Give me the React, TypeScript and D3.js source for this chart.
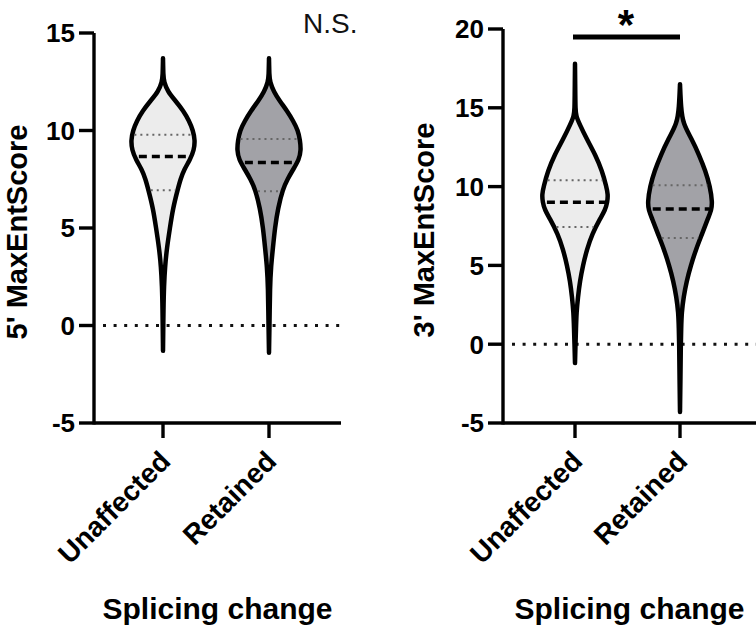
import React from "react";
import * as d3 from "d3";

const categories = ["Unaffected", "Retained"];

// [value, relative density]
const fiveUnaffected: [number, number][] = [
  [13.7, 0], [12.8, 0.01], [12.5, 0.03], [12, 0.14], [11.5, 0.39], [11, 0.62], [10.5, 0.79],
  [10, 0.91], [9.5, 0.97], [9, 0.94], [8.5, 0.82], [8, 0.64], [7.5, 0.53], [7, 0.45],
  [6, 0.3], [5, 0.21], [4, 0.12], [3, 0.06], [2, 0.03], [1, 0.015], [-1.3, 0],
];
const fiveRetained: [number, number][] = [
  [13.7, 0], [12.8, 0.01], [12.5, 0.03], [12, 0.14], [11.5, 0.33], [11, 0.55], [10.5, 0.73],
  [10, 0.88], [9.5, 0.94], [9, 0.97], [8.5, 0.91], [8, 0.73], [7.5, 0.56], [7, 0.42],
  [6, 0.27], [5, 0.18], [4, 0.12], [3, 0.06], [2, 0.03], [0, 0.015], [-1.4, 0],
];
const threeUnaffected: [number, number][] = [
  [17.8, 0], [15.5, 0.01], [15, 0.015], [14.5, 0.03], [14, 0.13], [13, 0.36], [12, 0.62],
  [11, 0.82], [10, 0.95], [9.5, 1.0], [9, 0.98], [8.5, 0.91], [8, 0.77], [7, 0.52],
  [6, 0.36], [5, 0.24], [4, 0.15], [3, 0.09], [2, 0.045], [1, 0.03], [0, 0.015], [-1.2, 0],
];
const threeRetained: [number, number][] = [
  [16.5, 0], [15, 0.03], [14, 0.09], [13, 0.36], [12, 0.58], [11, 0.77], [10, 0.91],
  [9, 0.98], [8.5, 0.95], [8, 0.85], [7, 0.67], [6, 0.48], [5, 0.33], [4, 0.2], [3, 0.11],
  [2, 0.05], [1, 0.036], [0, 0.024], [-2, 0.015], [-4.3, 0],
];

const fiveMedians = [8.67, 8.36];
const fiveQ1 = [6.93, 6.88];
const fiveQ3 = [9.78, 9.56];
const threeMedians = [9.0, 8.58];
const threeQ1 = [7.44, 6.74];
const threeQ3 = [10.4, 10.08];

const leftTicks = [-5, 0, 5, 10, 15];
const rightTicks = [-5, 0, 5, 10, 15, 20];

const fills = ["#ececec", "#a2a2a7"];
const FONT = "'Liberation Sans', Arial, Helvetica, sans-serif";
const STROKE = 4.5;

function densityAt(profile: [number, number][], v: number) {
  const sorted = [...profile].sort((a, b) => a[0] - b[0]);
  for (let i = 0; i < sorted.length - 1; i++) {
    const [v0, d0] = sorted[i];
    const [v1, d1] = sorted[i + 1];
    if (v >= v0 && v <= v1) return d0 + ((v - v0) / (v1 - v0)) * (d1 - d0);
  }
  return 0;
}

type PanelProps = {
  x0: number;
  x1: number;
  top: number;
  bottom: number;
  domain: [number, number];
  ticks: number[];
  profiles: [number, number][][];
  medians: number[];
  q1: number[];
  q3: number[];
  catX: number[];
  yTitle: string;
  yTitleX: number;
};

function Panel(p: PanelProps) {
  const y = d3.scaleLinear().domain(p.domain).range([p.bottom, p.top]);
  const w = d3.scaleLinear().domain([0, 1]).range([0, 33]);
  const x = d3.scaleOrdinal<string, number>().domain(categories).range(p.catX);
  const axisY = p.bottom;
  return (
    <g>
      {/* zero line */}
      <line x1={p.x0 + 9} x2={p.x1} y1={y(0)} y2={y(0)} stroke="#111" strokeWidth={3}
        strokeDasharray="3 7.6" />
      {/* violins */}
      {categories.map((c, i) => {
        const cx = x(c);
        const area = d3.area<[number, number]>()
          .y((d) => y(d[0]))
          .x0((d) => cx - w(d[1]))
          .x1((d) => cx + w(d[1]))
          .curve(d3.curveBasis);
        const line = (v: number) => {
          const hw = Math.max(0, w(densityAt(p.profiles[i], v)) - STROKE / 2);
          return { x1: cx - hw, x2: cx + hw, y: y(v) };
        };
        const m = line(p.medians[i]);
        const a = line(p.q1[i]);
        const b = line(p.q3[i]);
        return (
          <g key={c}>
            <path d={area(p.profiles[i]) || ""} fill={fills[i]} stroke="#000" strokeWidth={STROKE}
              strokeLinejoin="round" />
            <line x1={a.x1} x2={a.x2} y1={a.y} y2={a.y} stroke="#666" strokeWidth={2} strokeDasharray="2 4" />
            <line x1={b.x1} x2={b.x2} y1={b.y} y2={b.y} stroke="#666" strokeWidth={2} strokeDasharray="2 4" />
            <line x1={m.x1 + 2} x2={m.x2} y1={m.y} y2={m.y} stroke="#000" strokeWidth={3.5} strokeDasharray="8 5" />
          </g>
        );
      })}
      {/* y axis */}
      <line x1={p.x0} x2={p.x0} y1={y(p.domain[1])} y2={axisY + 1.5} stroke="#000" strokeWidth={3.4} />
      {p.ticks.map((t) => (
        <g key={t}>
          <line x1={p.x0 - 15} x2={p.x0} y1={y(t)} y2={y(t)} stroke="#000" strokeWidth={3.4} />
          <text x={p.x0 - 19} y={y(t)} dy="0.36em" textAnchor="end" fontFamily={FONT}
            fontWeight="bold" fontSize={26} fill="#000">{t}</text>
        </g>
      ))}
      {/* x axis */}
      <line x1={p.x0} x2={p.x1} y1={axisY} y2={axisY} stroke="#000" strokeWidth={3.4} />
      {categories.map((c) => (
        <g key={c}>
          <line x1={x(c)} x2={x(c)} y1={axisY} y2={axisY + 15} stroke="#000" strokeWidth={3.4} />
          <text transform={`translate(${x(c) + 9},${axisY + 40}) rotate(-45)`} textAnchor="end"
            fontFamily={FONT} fontWeight="bold" fontSize={28} fill="#000">{c}</text>
        </g>
      ))}
      <text x={(p.x0 + p.x1) / 2} y={619} textAnchor="middle" fontFamily={FONT} fontWeight="bold"
        fontSize={30} fill="#000">Splicing change</text>
      <text transform={`translate(${p.yTitleX},${(p.top + p.bottom) / 2 + 4}) rotate(-90)`}
        textAnchor="middle" fontFamily={FONT} fontWeight="bold" fontSize={29} fill="#000">{p.yTitle}</text>
    </g>
  );
}

export default function App() {
  return (
    <div style={{ position: "fixed", left: 0, top: 0 }}>
      <svg width={756} height={630} style={{ display: "block", background: "#fff" }}>
        <Panel x0={94} x1={341} top={33} bottom={423} domain={[-5, 15]} ticks={leftTicks}
          profiles={[fiveUnaffected, fiveRetained]} medians={fiveMedians} q1={fiveQ1} q3={fiveQ3}
          catX={[163, 269]} yTitle="5' MaxEntScore" yTitleX={27} />
        <Panel x0={503} x1={756} top={29} bottom={423} domain={[-5, 20]} ticks={rightTicks}
          profiles={[threeUnaffected, threeRetained]} medians={threeMedians} q1={threeQ1} q3={threeQ3}
          catX={[575, 680]} yTitle="3' MaxEntScore" yTitleX={434} />
        <text x={303} y={33} fontFamily={FONT} fontSize={28} fill="#111">N.S.</text>
        <line x1={573} x2={680} y1={37} y2={37} stroke="#000" strokeWidth={5} />
        <text x={626} y={39} textAnchor="middle" fontFamily={FONT} fontWeight="bold" fontSize={42}
          fill="#000">*</text>
      </svg>
    </div>
  );
}
